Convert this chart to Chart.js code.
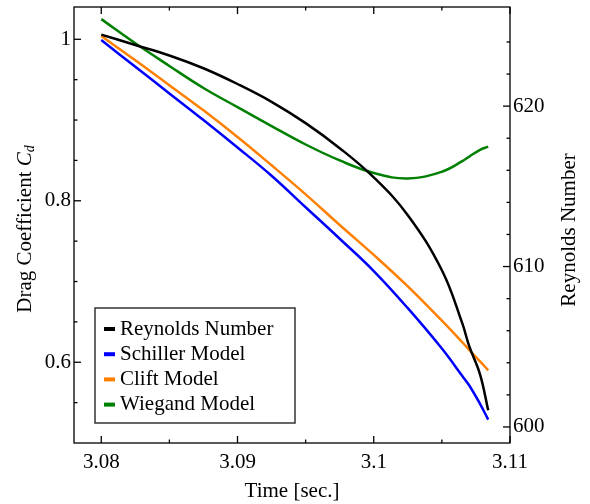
<!DOCTYPE html>
<html>
<head>
<meta charset="utf-8">
<script src="https://cdn.jsdelivr.net/npm/chart.js@4.4.0/dist/chart.umd.min.js"></script>
<style>
  html, body { margin: 0; padding: 0; background: #fff; }
  #wrap { width: 590px; height: 504px; }
</style>
</head>
<body>
<div id="wrap"><canvas id="chart" width="590" height="504"></canvas></div>
<script>
// data
const time = [3.08, 3.0825, 3.085, 3.0875, 3.09, 3.0925, 3.095, 3.0975, 3.1, 3.1025, 3.105, 3.1065, 3.107, 3.1078, 3.1084];
const reynolds = [624.46, 623.81, 623.16, 622.36, 621.38, 620.27, 618.94, 617.38, 615.56, 613.2, 609.77, 606.46, 605.05, 603.28, 601.04];
const schiller = [0.999, 0.966, 0.933, 0.900, 0.866, 0.831, 0.792, 0.753, 0.713, 0.667, 0.617, 0.583, 0.5715, 0.5485, 0.529];
const clift = [1.004, 0.974, 0.943, 0.912, 0.879, 0.844, 0.808, 0.770, 0.733, 0.694, 0.6515, 0.6248, 0.6154, 0.6011, 0.590];
const wiegand = [1.025, 0.995, 0.967, 0.9397, 0.916, 0.8925, 0.8697, 0.850, 0.8344, 0.8276, 0.836, 0.849, 0.8546, 0.8631, 0.8671];

// ticks
const timeTicks = [3.08, 3.09, 3.1, 3.11];
const timeMinor = [3.085, 3.095, 3.105];
const cdTicks = [0.6, 0.8, 1];
const cdMinor = [0.55, 0.65, 0.7, 0.75, 0.85, 0.9, 0.95];
const reTicks = [600, 610, 620];
const reMinor = [602, 604, 606, 608, 612, 614, 616, 618, 622, 624];

const FONT = "'Liberation Serif', 'DejaVu Serif', serif";
Chart.defaults.font.family = FONT;
Chart.defaults.font.size = 21;
Chart.defaults.color = '#000';

const pts = (ys) => ys.map((y, i) => ({ x: time[i], y: y }));

function line(label, ys, color, axis) {
    return {
        label: label,
        data: pts(ys),
        yAxisID: axis,
        borderColor: color,
        backgroundColor: color,
        borderWidth: 2.5,
        pointRadius: 0,
        tension: 0.4,
        fill: false
    };
}

// fixed axis box sizes so the plot frame lands where the reference has it
function fixSize(prop, size) {
    return (s) => {
        s[prop] = size;
        s.paddingTop = 0;
        s.paddingBottom = 0;
        s.paddingLeft = 0;
        s.paddingRight = 0;
    };
}

// frame, inward ticks, axis titles and legend
const framePlugin = {
    id: 'frame',
    afterDraw(chart) {
        const { ctx, chartArea: a, scales } = chart;
        const seg = (x1, y1, x2, y2) => {
            ctx.beginPath();
            ctx.moveTo(x1, y1);
            ctx.lineTo(x2, y2);
            ctx.stroke();
        };
        ctx.save();
        ctx.strokeStyle = '#000';
        ctx.lineWidth = 1.3;
        ctx.strokeRect(a.left, a.top, a.right - a.left, a.bottom - a.top);

        const MAJ = 7, MIN = 3.5;
        timeTicks.concat(timeMinor).forEach(v => {
            const len = timeTicks.includes(v) ? MAJ : MIN;
            const x = scales.x.getPixelForValue(v);
            seg(x, a.bottom, x, a.bottom - len);
            seg(x, a.top, x, a.top + len);
        });
        cdTicks.concat(cdMinor).forEach(v => {
            const len = cdTicks.includes(v) ? MAJ : MIN;
            const y = scales.y.getPixelForValue(v);
            seg(a.left, y, a.left + len, y);
        });
        reTicks.concat(reMinor).forEach(v => {
            const len = reTicks.includes(v) ? MAJ : MIN;
            const y = scales.y1.getPixelForValue(v);
            seg(a.right, y, a.right - len, y);
        });

        // axis titles
        ctx.fillStyle = '#000';
        ctx.textBaseline = 'middle';
        ctx.textAlign = 'center';
        ctx.font = '21px ' + FONT;
        ctx.fillText('Time [sec.]', (a.left + a.right) / 2, 491);

        ctx.save();
        ctx.translate(569, 230);
        ctx.rotate(-Math.PI / 2);
        ctx.fillText('Reynolds Number', 0, 0);
        ctx.restore();

        ctx.save();
        ctx.translate(25, 229);
        ctx.rotate(-Math.PI / 2);
        ctx.textAlign = 'left';
        const p1 = 'Drag Coefficient ';
        ctx.font = '21px ' + FONT;
        const w1 = ctx.measureText(p1).width;
        ctx.font = 'italic 21px ' + FONT;
        const w2 = ctx.measureText('C').width;
        ctx.font = 'italic 14px ' + FONT;
        const w3 = ctx.measureText('d').width;
        let x0 = -(w1 + w2 + w3) / 2;
        ctx.font = '21px ' + FONT;
        ctx.fillText(p1, x0, 0);
        ctx.font = 'italic 21px ' + FONT;
        ctx.fillText('C', x0 + w1, 0);
        ctx.font = 'italic 14px ' + FONT;
        ctx.fillText('d', x0 + w1 + w2, 5);
        ctx.restore();

        // legend box
        const bx = 95, by = 308, bw = 200, bh = 115;
        ctx.fillStyle = '#fff';
        ctx.fillRect(bx, by, bw, bh);
        ctx.strokeStyle = '#333';
        ctx.lineWidth = 1.5;
        ctx.strokeRect(bx, by, bw, bh);
        ctx.font = '21px ' + FONT;
        ctx.textAlign = 'left';
        chart.data.datasets.forEach((ds, i) => {
            const yy = 329 + i * 25.2;
            ctx.strokeStyle = ds.borderColor;
            ctx.lineWidth = 4;
            seg(104, yy, 115, yy);
            ctx.fillStyle = '#000';
            ctx.fillText(ds.label, 120, yy);
        });
        ctx.restore();
    }
};

new Chart(document.getElementById('chart'), {
    type: 'line',
    data: {
        datasets: [
            line('Reynolds Number', reynolds, '#000000', 'y1'),
            line('Schiller Model', schiller, '#0000ff', 'y'),
            line('Clift Model', clift, '#ff8000', 'y'),
            line('Wiegand Model', wiegand, '#008000', 'y')
        ]
    },
    options: {
        responsive: false,
        animation: false,
        layout: { padding: { top: 7 } },
        plugins: {
            legend: { display: false },
            tooltip: { enabled: false }
        },
        scales: {
            x: {
                type: 'linear',
                position: 'bottom',
                min: 3.078,
                max: 3.11,
                grid: { display: false, drawTicks: false },
                border: { display: false },
                afterBuildTicks: (s) => { s.ticks = timeTicks.map(v => ({ value: v })); },
                afterFit: fixSize('height', 61),
                ticks: {
                    padding: 7,
                    maxRotation: 0,
                    callback: (v) => String(v)
                }
            },
            y: {
                type: 'linear',
                position: 'left',
                min: 0.5,
                max: 1.04,
                grid: { display: false, drawTicks: false },
                border: { display: false },
                afterBuildTicks: (s) => { s.ticks = cdTicks.map(v => ({ value: v })); },
                afterFit: fixSize('width', 74),
                ticks: {
                    padding: 3,
                    callback: (v) => String(v)
                }
            },
            y1: {
                type: 'linear',
                position: 'right',
                min: 599,
                max: 626.18,
                grid: { display: false, drawTicks: false },
                border: { display: false },
                afterBuildTicks: (s) => { s.ticks = reTicks.map(v => ({ value: v })); },
                afterFit: fixSize('width', 80),
                ticks: {
                    padding: 3,
                    callback: (v) => String(v)
                }
            }
        }
    },
    plugins: [framePlugin]
});
</script>
</body>
</html>
